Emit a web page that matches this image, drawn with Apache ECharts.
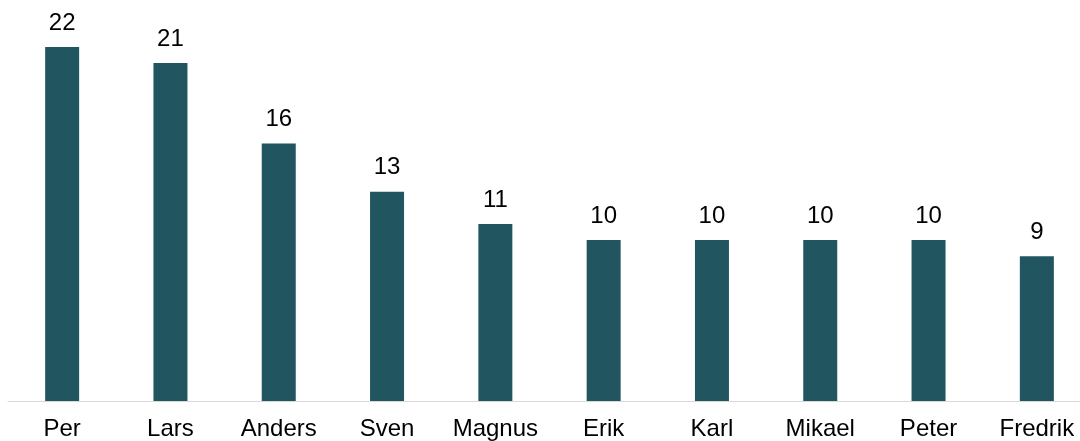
<!DOCTYPE html>
<html>
<head>
<meta charset="utf-8">
<script src="https://cdn.jsdelivr.net/npm/echarts@6/dist/echarts.min.js"></script>
<style>html,body{margin:0;padding:0;background:#fff;overflow:hidden;width:1080px;height:441px}#c{width:1091px;height:441px}</style>
</head>
<body>
<div id="c"></div>
<script>
const categories = ['Per','Lars','Anders','Sven','Magnus','Erik','Karl','Mikael','Peter','Fredrik'];
const values = [22,21,16,13,11,10,10,10,10,9];

const chart = echarts.init(document.getElementById('c'), null, {renderer:'canvas'});
chart.setOption({
  animation: false,
  grid: {left: 8, right: 0, top: 14.7, bottom: 39, containLabel: false},
  xAxis: {
    type: 'category', data: categories,
    axisLine: {lineStyle: {color: '#d9d9d9', width: 1}},
    axisTick: {show: false},
    axisLabel: {color: '#000', fontFamily: 'Liberation Sans, Arial, sans-serif', fontSize: 24, margin: 16, interval: 0}
  },
  yAxis: {
    type: 'value', min: 0, max: 24, show: false,
    splitLine: {show: false}
  },
  series: [{
    type: 'bar', data: values, barWidth: 34,
    itemStyle: {color: '#215660'},
    label: {show: true, position: 'top', distance: 12, color: '#000', fontFamily: 'Liberation Sans, Arial, sans-serif', fontSize: 24}
  }]
});
</script>
</body>
</html>
